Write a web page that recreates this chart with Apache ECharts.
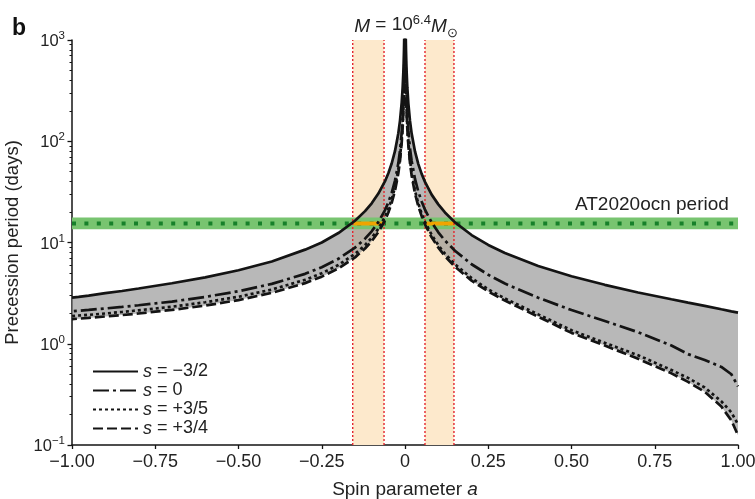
<!DOCTYPE html>
<html><head><meta charset="utf-8">
<script src="https://cdn.jsdelivr.net/npm/echarts@6/dist/echarts.min.js"></script>
<style>html,body{margin:0;padding:0;background:#fff}#c{width:755px;height:499px}</style>
</head><body><div id="c"></div>
<script>
// |a| sample grid (applied with sign -1 for the left branches, +1 for the right branches)
const A_ABS = [0.0007,0.001,0.0013,0.0017,0.0022,0.003,0.004,0.005,0.007,0.01,0.015,0.02,0.03,0.04,0.05,0.06,0.08,0.1,0.12,0.15,0.2,0.25,0.3,0.4,0.5,0.6,0.7,0.8,0.85,0.9,0.95,0.98,1.0];
// precession period (days), s = -3/2
const S_M32_L = [3430,2400,1846,1412,1091,800,600,480,343,240,160,120.2,80.2,60.3,48.3,40.3,30.4,24.4,20.4,16.4,12.4,10.0,8.5,6.5,5.32,4.53,3.96,3.51,3.32,3.16,2.99,2.9,2.85];
const S_M32_R = [3400,2380,1831,1400,1082,793,595,476,340,238,158.7,119,79.3,59.5,47.6,39.7,29.7,23.8,19.8,15.8,11.85,9.46,7.87,5.85,4.64,3.82,3.21,2.75,2.55,2.37,2.19,2.09,2.03];
// s = 0
const S_0_L = [1715,1201,924,707,546,401,301,241,172,121,80.9,60.9,40.9,30.9,24.9,20.9,15.9,12.9,10.9,8.9,6.9,5.7,4.9,3.9,3.3,2.9,2.61,2.4,2.31,2.23,2.16,2.12,2.09];
const S_0_R = [1829,1280,985,753,582,427,320,256,183,128,85.2,63.8,42.5,31.8,25.4,21.1,15.8,12.6,10.45,8.3,6.1,4.8,3.93,2.85,2.15,1.68,1.3,0.96,0.79,0.69,0.59,0.5,0.38];
// s = +3/5
const S_35_L = [1472,1031,793,607,469,344,258,207,148,104,69.5,52.4,35.2,26.6,21.5,18.0,13.7,11.15,9.43,7.72,6.0,4.97,4.28,3.43,2.91,2.57,2.32,2.14,2.06,1.99,1.93,1.9,1.87];
const S_35_R = [1400,980,754,576,445,327,245,196,140,98,65.2,48.8,32.4,24.2,19.3,16.0,11.9,9.4,7.75,6.1,4.45,3.44,2.8,1.95,1.36,1.02,0.77,0.55,0.46,0.37,0.27,0.21,0.16];
// s = +3/4
const S_34_L = [1358,951,732,560,433,317,238,191,136.5,95.8,64.1,48.3,32.5,24.6,19.8,16.6,12.7,10.3,8.72,7.13,5.55,4.6,3.97,3.18,2.7,2.38,2.16,1.99,1.92,1.86,1.8,1.77,1.75];
const S_34_R = [1314,920,708,541,418,307,230,184,131.4,92,61.2,45.9,30.5,22.8,18.2,15.1,11.25,8.9,7.33,5.77,4.2,3.28,2.67,1.85,1.28,0.96,0.71,0.51,0.42,0.335,0.24,0.175,0.125];

const SPIN_BANDS = [[-0.157,-0.063],[0.06,0.147]];
const PERIOD = 15.4;
const PERIOD_BAND = [13.5, 17.7];
const ORANGE_SEGS = [[-0.155,-0.065],[0.06,0.15]];
const Y_MINOR = [0.2,0.3,0.4,0.5,0.6,0.7,0.8,0.9,2,3,4,5,6,7,8,9,20,30,40,50,60,70,80,90,200,300,400,500,600,700,800,900];
const LEGEND_NAMES = ['sA','sB','sC','sD'];
const LEGEND_TEXT = {sA:'{i|s} = −3/2', sB:'{i|s} = 0', sC:'{i|s} = +3/5', sD:'{i|s} = +3/4'};

const FONT = '"Liberation Sans", Arial, Helvetica, sans-serif';
const BLACK = '#141414';
const TXT = '#222';
const CURVES = [
  {name:'sA', L:S_M32_L, R:S_M32_R, type:'solid'},
  {name:'sB', L:S_0_L, R:S_0_R, type:[16,4,3,4]},
  {name:'sC', L:S_35_L, R:S_35_R, type:[3,3]},
  {name:'sD', L:S_34_L, R:S_34_R, type:[10,4]}
];
function pairs(sign, vals){ return A_ABS.map((a,i)=>[sign*a, vals[i]]); }

const series = [];
series.push({
  type:'custom', coordinateSystem:'cartesian2d', z:1, silent:true, clip:true,
  data: SPIN_BANDS.map(b=>[b[0],b[1]]),
  renderItem:(p, api)=>{
    const p0 = api.coord([api.value(0), 1000]);
    const p1 = api.coord([api.value(1), 0.1]);
    return {type:'rect', shape:{x:p0[0], y:p0[1], width:p1[0]-p0[0], height:p1[1]-p0[1]}, style:{fill:'#fde9cc'}};
  }
});
series.push({
  type:'custom', coordinateSystem:'cartesian2d', z:2, silent:true, clip:true,
  data:[[0,1]],
  renderItem:(p, api)=>{
    const children = [];
    [[-1,S_M32_L,S_34_L],[1,S_M32_R,S_34_R]].forEach(([sg,up,lo])=>{
      const pts = [];
      A_ABS.forEach((a,i)=>pts.push(api.coord([sg*a, Math.min(up[i],1000)])));
      for (let i=A_ABS.length-1;i>=0;i--) pts.push(api.coord([sg*A_ABS[i], Math.min(lo[i],1000)]));
      children.push({type:'polygon', shape:{points:pts}, style:{fill:'rgba(140,140,140,0.62)'}});
    });
    return {type:'group', children};
  }
});
series.push({
  type:'custom', coordinateSystem:'cartesian2d', z:3, silent:true, clip:true,
  data:[[PERIOD_BAND[0], PERIOD_BAND[1]]],
  renderItem:(p, api)=>{
    const p0 = api.coord([-1, api.value(1)]);
    const p1 = api.coord([1, api.value(0)]);
    return {type:'rect', shape:{x:p0[0], y:p0[1], width:p1[0]-p0[0], height:p1[1]-p0[1]}, style:{fill:'#78c470'}};
  }
});
series.push({
  type:'line', z:4, silent:true, symbol:'none', data:[[-1,PERIOD],[1,PERIOD]],
  lineStyle:{color:'#17802a', width:4, type:[4,8.4], cap:'butt'}
});
ORANGE_SEGS.forEach(s=>series.push({
  type:'line', z:5, silent:true, symbol:'none', data:[[s[0],PERIOD],[s[1],PERIOD]],
  lineStyle:{color:'#f0a400', width:4}
}));
SPIN_BANDS.forEach(b=>b.forEach(x=>series.push({
  type:'line', z:6, silent:true, symbol:'none', data:[[x,0.1],[x,1000]],
  lineStyle:{color:'#e3262e', width:1.4, type:[2,2]}
})));
CURVES.forEach(c=>{
  [[-1,c.L],[1,c.R]].forEach(([sg,vals])=>series.push({
    name:c.name, type:'line', z:10, symbol:'none', silent:true, clip:true,
    data:pairs(sg, vals),
    lineStyle:{color:BLACK, width:2.7, type:c.type, cap:'butt'},
    itemStyle:{color:BLACK}
  }));
});

const chart = echarts.init(document.getElementById('c'), null, {renderer:'canvas'});
chart.setOption({
  animation:false,
  backgroundColor:'#fff',
  textStyle:{fontFamily:FONT},
  grid:{left:72, right:17, top:40, bottom:54, containLabel:false, outerBoundsMode:'none'},
  xAxis:{
    type:'value', min:-1, max:1, interval:0.25,
    name:'Spin parameter {i|a}', nameLocation:'middle', nameGap:35,
    nameTextStyle:{fontSize:19, color:TXT, fontFamily:FONT, rich:{i:{fontStyle:'italic', fontSize:19, color:TXT, fontFamily:FONT}}},
    axisLine:{show:true, onZero:false, lineStyle:{color:BLACK, width:1.5}},
    axisTick:{show:true, length:4, lineStyle:{color:BLACK, width:1.3}},
    axisLabel:{fontSize:18, color:TXT, margin:8, fontFamily:FONT,
      formatter:v=>Math.abs(v)<1e-9?'0':(v<0?'−':'')+Math.abs(v).toFixed(2)},
    splitLine:{show:false}
  },
  yAxis:[{
    type:'log', logBase:10, min:0.1, max:1000,
    name:'Precession period (days)', nameLocation:'middle', nameGap:42,
    nameTextStyle:{fontSize:18.5, color:TXT, fontFamily:FONT},
    axisLine:{show:true, onZero:false, lineStyle:{color:BLACK, width:1.5}},
    axisTick:{show:true, length:4.5, lineStyle:{color:BLACK, width:1.3}},
    axisLabel:{margin:7, color:TXT, fontFamily:FONT,
      formatter:v=>{const e=Math.round(Math.log10(v)); return '{b|10}{s|'+(e<0?'−'+(-e):e)+'}';},
      rich:{b:{fontSize:16.5, color:TXT, fontFamily:FONT, verticalAlign:'bottom'}, s:{fontSize:11.5, color:TXT, fontFamily:FONT, verticalAlign:'bottom', padding:[0,0,8,0]}}},
    splitLine:{show:false}
  },{
    type:'log', logBase:10, min:0.1, max:1000, position:'left', offset:0,
    axisLine:{show:false, onZero:false},
    axisTick:{show:true, length:2.5, lineStyle:{color:BLACK, width:1}, customValues:Y_MINOR},
    axisLabel:{show:false}, splitLine:{show:false}
  }],
  legend:{
    data:LEGEND_NAMES, orient:'vertical', left:92, top:362, itemWidth:45, itemHeight:14, itemGap:0, padding:0,
    selectedMode:false,
    itemStyle:{opacity:0},
    formatter:n=>LEGEND_TEXT[n],
    textStyle:{fontSize:18, color:TXT, fontFamily:FONT, lineHeight:19, rich:{i:{fontStyle:'italic', fontSize:18, color:TXT, fontFamily:FONT, lineHeight:19}}}
  },
  graphic:[
    {type:'text', left:12, top:17, style:{text:'b', font:'bold 23px '+FONT, fill:'#111'}},
    {type:'text', x:406, y:25, style:{
      text:'{i|M} = 10{s|6.4}{i|M}{sub|⊙}', align:'center', verticalAlign:'middle',
      rich:{
        i:{fontStyle:'italic', fontSize:19, fill:TXT, fontFamily:FONT, verticalAlign:'bottom'},
        s:{fontSize:13, fill:TXT, fontFamily:FONT, verticalAlign:'bottom', padding:[0,0,9,0]},
        sub:{fontSize:13, fill:TXT, fontFamily:FONT, verticalAlign:'bottom', padding:[0,0,-4,0]}
      },
      font:'19px '+FONT, fill:TXT}},
    {type:'text', left:575, top:195, style:{text:'AT2020ocn period', font:'19px '+FONT, fill:TXT}}
  ],
  series
});
</script></body></html>
